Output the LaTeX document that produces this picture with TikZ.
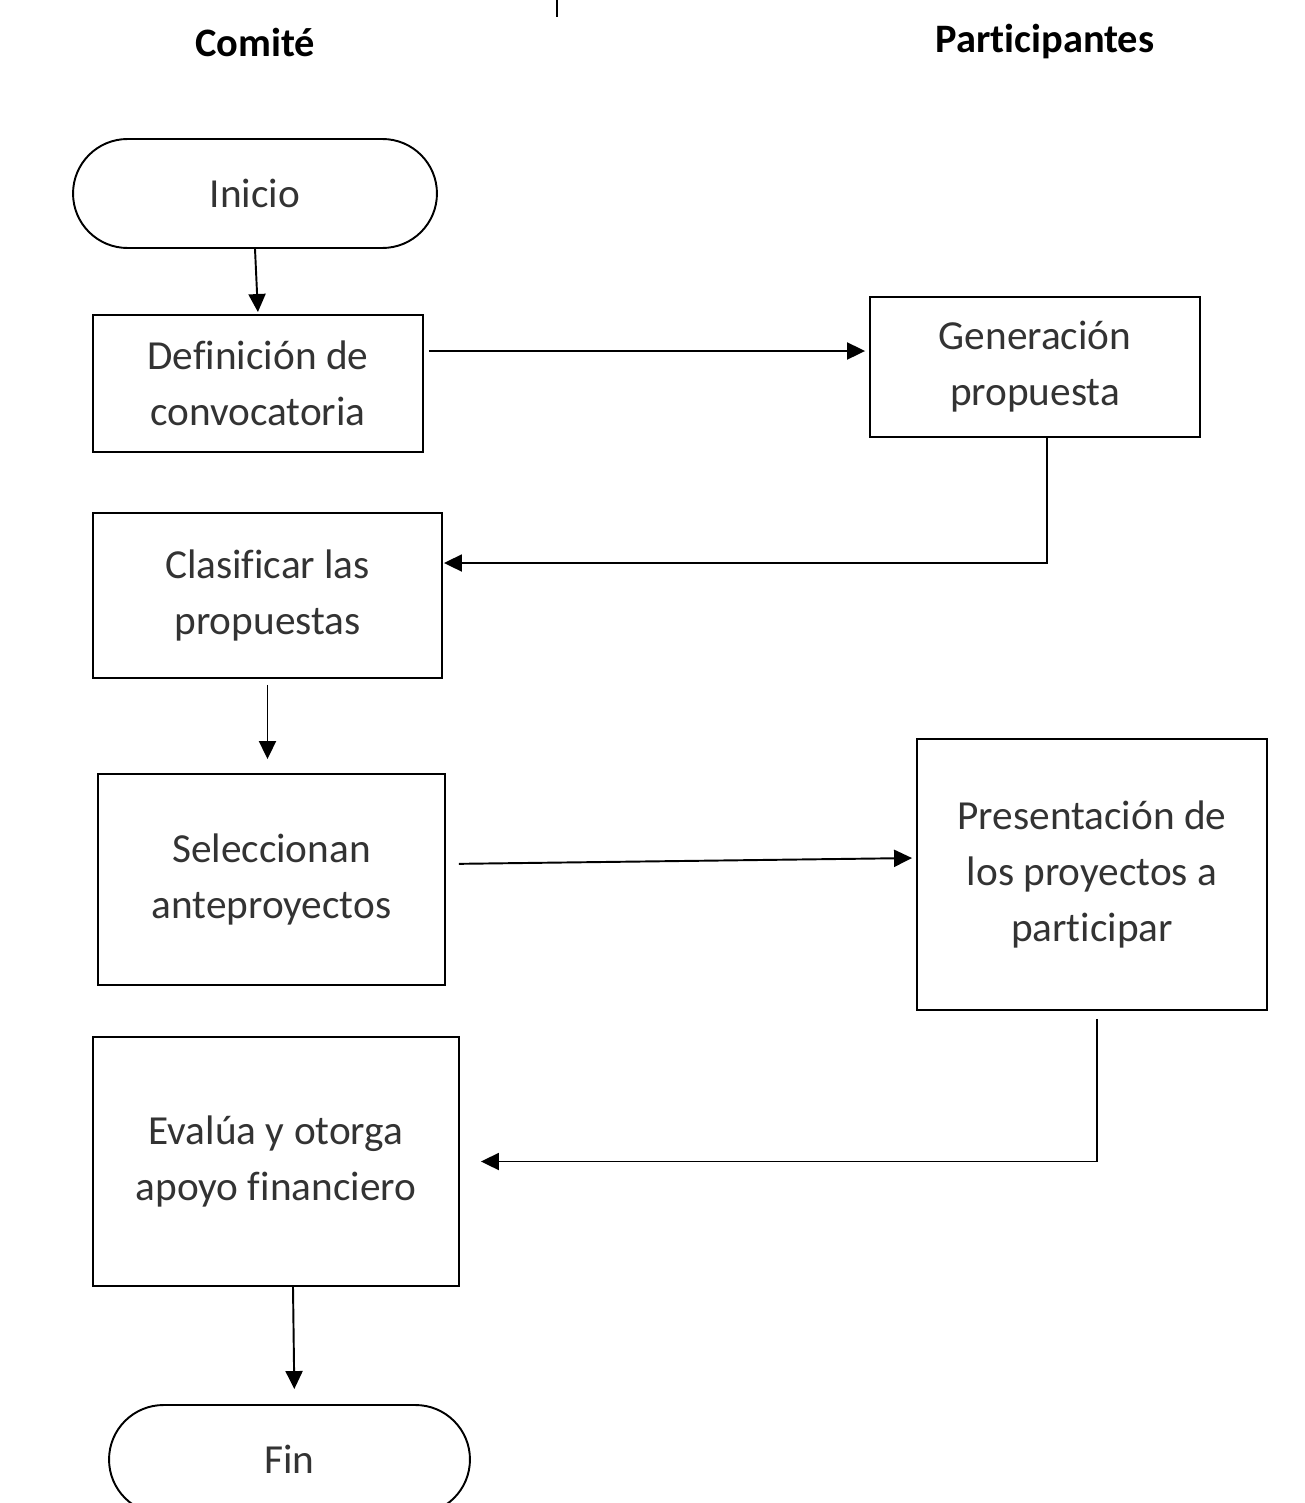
\documentclass[tikz,border=0pt]{standalone}
\usepackage{fontspec}
\setmainfont[Ligatures={NoCommon,NoRequired,NoContextual},Contextuals=NoAlternate]{Carlito}
\usetikzlibrary{positioning,arrows.meta}

\begin{document}
\begin{tikzpicture}[x=0.02cm,y=-0.02cm,font=\fontsize{23.5}{32}\selectfont,text=black!80]
    \tikzstyle{box}=[draw,line width=1.1pt,align=center,inner sep=0pt]
    \tikzstyle{term}=[box,rounded corners=1.09cm,minimum height=2.18cm]
    \tikzstyle{head}=[font=\fontsize{23}{28}\selectfont\bfseries,text=black]
    \tikzstyle{arr}=[-{Triangle[length=0.36cm,width=0.34cm]},line width=1.1pt]
    \useasboundingbox (0,0) rectangle (1304,1503);
    \fill[white] (0,0) rectangle (1304,1503);
    \draw[line width=0.6pt] (557,0) -- (557,17);

    % lanes
    \node[head] (comite) at (255,42) {Comité};
    \node[head] (part) at (1045,42) {Participantes};

    % steps
    \node[term,minimum width=7.28cm] (inicio) at (255,193.5) {Inicio};
    \node[box,minimum width=6.6cm,minimum height=2.74cm] (def) at (258,383.5) {Definición de\\convocatoria};
    \node[box,minimum width=6.6cm,minimum height=2.8cm] (gen) at (1035,367) {Generación\\propuesta};
    \node[box,minimum width=6.98cm,minimum height=3.3cm] (clas) at (267.5,595.5) {Clasificar las\\propuestas};
    \node[box,minimum width=6.94cm,minimum height=4.22cm] (sel) at (271.5,879.5) {Seleccionan\\anteproyectos};
    \node[box,minimum width=7cm,minimum height=5.42cm] (pres) at (1092,874.5) {Presentación de\\los proyectos a\\participar};
    \node[box,minimum width=7.32cm,minimum height=4.98cm] (eval) at (276,1161.5) {Evalúa y otorga\\apoyo financiero};
    \node[term,minimum width=7.22cm] (fin) at (289.5,1459.5) {Fin};

    % flow
    \draw[arr,shorten >=0.04cm] (inicio.south) -- (def.north);
    \draw[arr,shorten <=0.1cm,shorten >=0.08cm] ([yshift=0.65cm]def.east) -- ([yshift=0.65cm]def.east -| gen.west);
    \draw[arr,shorten >=0.02cm] ([xshift=0.24cm]gen.south) |- ([yshift=0.65cm]clas.east);
    \draw[arr,shorten <=0.12cm,shorten >=0.28cm] (clas.south) -- (clas.south |- sel.north);
    \draw[arr,shorten <=0.26cm,shorten >=0.08cm] ([yshift=0.31cm]sel.east) -- ([yshift=0.33cm]pres.west);
    \draw[arr,shorten <=0.16cm,shorten >=0.42cm] ([xshift=0.1cm]pres.south) |- (eval.east);
    \draw[arr,shorten >=0.3cm] ([xshift=0.34cm]eval.south) -- ([xshift=0.1cm]fin.north);
\end{tikzpicture}
\end{document}
